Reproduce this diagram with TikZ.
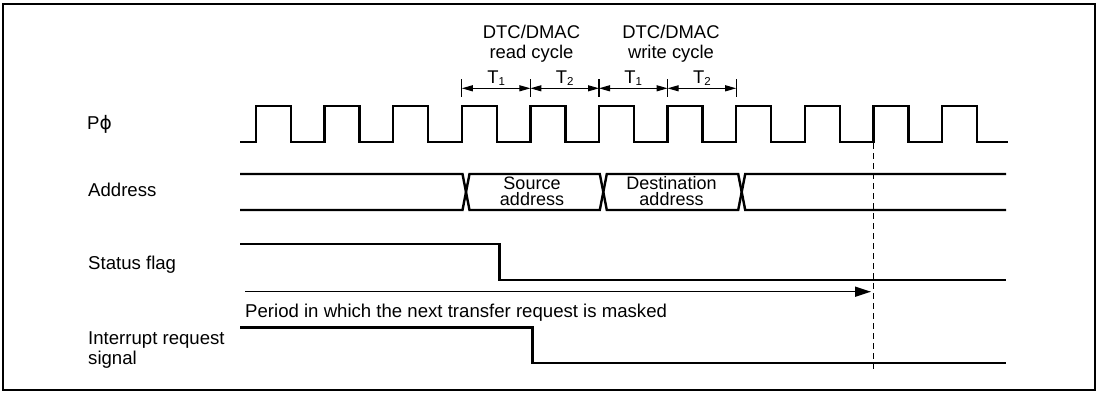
\documentclass[tikz,border=0pt]{standalone}
\usepackage{fontspec}
\setmainfont{Liberation Sans}
\newfontfamily\symfont{DejaVu Sans}
\usetikzlibrary{arrows.meta,calc}

\begin{document}
\begin{tikzpicture}[
  x=1pt, y=-1pt,
  lbl/.style={anchor=base west, inner sep=0pt, align=left, font=\fontsize{18.6}{20}\selectfont},
  cyc/.style={anchor=base, inner sep=0pt, align=center, font=\fontsize{18.4}{20}\selectfont},
  buslbl/.style={anchor=base, inner sep=0pt, align=center, font=\fontsize{18}{16}\selectfont},
  sig/.style={line width=2.4pt},
  cycarr/.style={{Triangle[length=11pt,width=6pt]}-{Triangle[length=11pt,width=6pt]}, line width=1.1pt},
  maskarr/.style={-{Triangle[length=16pt,width=10pt]}, line width=1.5pt}
]
\useasboundingbox (0,0) rectangle (1100,392);
\draw[line width=2.2pt] (3,4) rectangle (1095,390);
\node[lbl] (clk) at (87,129.3) {P{\symfont ϕ}};
\node[lbl] (addr) at (88,196.7) {Address};
\node[lbl] (flag) at (88,269) {Status flag};
\node[lbl] (irq) at (88,364.5) {Interrupt request\\signal};
\node[cyc] (rd) at (531.5,58.3) {DTC/DMAC\\read cycle};
\node[cyc] (wr) at (671,58.3) {DTC/DMAC\\write cycle};
\foreach \i in {0,...,4} {
  \coordinate (t\i) at ({461.8+68.6*\i},88.3);
  \draw[line width=1.1pt] (t\i) +(0,-9.3) -- +(0,8.4);
}
\foreach \a/\b/\n in {0/1/1,1/2/2,2/3/1,3/4/2} {
  \draw[cycarr] (t\a) -- (t\b);
  \node[cyc] (T\a) at ($(t\a)!.5!(t\b)+(0,-5)$) {T\raisebox{-2.5pt}{\fontsize{11.5}{11}\selectfont\n}};
}
\draw[sig] (240,142) \foreach \k in {0,...,10} { -- ({256+68.6*\k},142) -- ++(0,-36) -- ++(35,0) -- ++(0,36)} -- (1008,142);
\draw[sig] (240,174) -- (462.5,174) -- (469.5,210) -- (599.8,210) -- (606.8,174) -- (738.2,174) -- (745.2,210) -- (1006,210);
\draw[sig] (240,210) -- (462.5,210) -- (469.5,174) -- (599.8,174) -- (606.8,210) -- (738.2,210) -- (745.2,174) -- (1006,174);
\node[buslbl] (src) at (532,205.5) {Source\\address};
\node[buslbl] (dst) at (671.5,205.5) {Destination\\address};
\draw[sig] (240,244) -- (499.3,244) -- (499.3,280) -- (1006,280);
\draw[sig] (240,327.3) -- (532.3,327.3) -- (532.3,362.7) -- (1006,362.7);
\coordinate (mfrom) at (245,291.7);
\coordinate (mto) at (871,291.7);
\draw[maskarr] (mfrom) -- (mto);
\node[lbl] (mask) at (245,317.3) {Period in which the next transfer request is masked};
\coordinate (dtop) at (873.4,143);
\coordinate (dbot) at (873.4,370);
\draw[line width=1.2pt, dash pattern=on 6pt off 4pt] (dtop) -- (dbot);
\end{tikzpicture}
\end{document}
